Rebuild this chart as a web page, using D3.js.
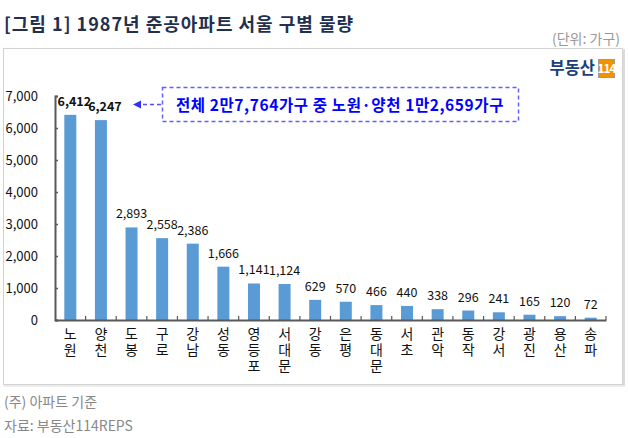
<!DOCTYPE html>
<html><head><meta charset="utf-8">
<script src="https://cdn.jsdelivr.net/npm/d3@7/dist/d3.min.js"></script>
<style>
html,body{margin:0;padding:0;background:#fff;}
svg{display:block;font-family:"Noto Sans CJK KR","Noto Sans",sans-serif;}
.vlab{writing-mode:vertical-rl;text-orientation:upright;}
</style></head>
<body>
<svg id="chart" width="628" height="438"></svg>
<script>
const categories = ["노원","양천","도봉","구로","강남","성동","영등포","서대문","강동","은평","동대문","서초","관악","동작","강서","광진","용산","송파"];
const values = [6412,6247,2893,2558,2386,1666,1141,1124,629,570,466,440,338,296,241,165,120,72];
const boldLabels = ["노원","양천"];
const yTicks = [0,1000,2000,3000,4000,5000,6000,7000];
const titleText = "[그림 1] 1987년 준공아파트 서울 구별 물량";
const unitText = "(단위: 가구)";
const noteText = "전체 2만7,764가구 중 노원·양천 1만2,659가구";
const footer1 = "(주) 아파트 기준";
const footer2 = "자료: 부동산114REPS";

const svg = d3.select("#chart");

// title
svg.append("text").attr("x",4).attr("y",31).attr("font-size",18).attr("font-weight","bold")
  .attr("fill","#22304e").attr("letter-spacing",1).text(titleText);
svg.append("text").attr("x",620).attr("y",44).attr("text-anchor","end").attr("font-size",14)
  .attr("fill","#999").text(unitText);

// box
svg.append("rect").attr("x",3.5).attr("y",48.5).attr("width",619).attr("height",336)
  .attr("fill","#fff").attr("stroke","#d2d2d2");
svg.append("line").attr("x1",624).attr("x2",624).attr("y1",49).attr("y2",386).attr("stroke","#dcdcdc").attr("stroke-width",2);
svg.append("line").attr("x1",4).attr("x2",625).attr("y1",386).attr("y2",386).attr("stroke","#e6e6e6").attr("stroke-width",1.5);

// logo
svg.append("text").attr("x",595).attr("y",74).attr("text-anchor","end").attr("font-size",16.5)
  .attr("font-weight","bold").attr("fill","#1c3f7c").text("부동산");
svg.append("rect").attr("x",598.5).attr("y",59.5).attr("width",16).attr("height",18)
  .attr("fill","#f39200").attr("stroke","#9a9a9a");
svg.append("text").attr("x",606.5).attr("y",73).attr("text-anchor","middle").attr("font-size",12)
  .attr("font-weight","bold").attr("fill","#fff").attr("letter-spacing",-1).text("114");

// scales
const x = d3.scaleBand().domain(categories).range([55,606]);
const y = d3.scaleLinear().domain([0,7000]).range([320,96]);
const barW = 12;

// bars
svg.append("g").selectAll("rect").data(categories).join("rect")
  .attr("x",(d)=>x(d)+x.bandwidth()/2-barW/2)
  .attr("y",(d,i)=>y(values[i]))
  .attr("width",barW)
  .attr("height",(d,i)=>y(0)-y(values[i]))
  .attr("fill","#5b9bd5");

// value labels
svg.append("g").selectAll("text").data(categories).join("text")
  .attr("x",(d)=>x(d)+x.bandwidth()/2 + (boldLabels.includes(d)?4:0))
  .attr("y",(d,i)=>y(values[i])-9)
  .attr("text-anchor","middle")
  .attr("font-size",12.5)
  .attr("font-weight",(d)=>boldLabels.includes(d)?"bold":"normal")
  .attr("fill","#111")
  .text((d,i)=>d3.format(",")(values[i]));

// y axis
const yAxis = svg.append("g").attr("transform","translate(55,0)")
  .call(d3.axisLeft(y).tickValues(yTicks).tickSize(-3).tickPadding(17).tickFormat(d3.format(",")));
yAxis.select(".domain").attr("stroke","#595959").attr("stroke-width",2);
yAxis.selectAll(".tick line").attr("stroke","#595959").attr("stroke-width",1.5);
yAxis.selectAll(".tick text").attr("font-size",13).attr("fill","#111")
  .attr("font-family","'Noto Sans CJK KR',sans-serif");

// x axis
const xAxis = svg.append("g").attr("transform","translate(0,320)")
  .call(d3.axisBottom(x).tickSize(0).tickFormat(""));
xAxis.select(".domain").attr("stroke","#595959").attr("stroke-width",2);
const bounds = categories.map(c=>x(c)).concat([x.range()[1]]);
svg.append("g").selectAll("line").data(bounds.slice(1)).join("line")
  .attr("x1",d=>d).attr("x2",d=>d).attr("y1",320).attr("y2",316)
  .attr("stroke","#595959").attr("stroke-width",1.2);

// x labels (vertical writing)
svg.append("g").selectAll("text").data(categories).join("text")
  .attr("class","vlab")
  .attr("x",d=>x(d)+x.bandwidth()/2)
  .attr("y",327)
  .attr("font-size",14).attr("letter-spacing",1.8).attr("fill","#111")
  .text(d=>d);

// annotation
svg.append("rect").attr("x",162.5).attr("y",87.5).attr("width",356).attr("height",34)
  .attr("fill","#fff").attr("stroke","#6060ff").attr("stroke-width",1.5).attr("stroke-dasharray","4,3");
svg.append("text").attr("x",340).attr("y",110.5).attr("text-anchor","middle").attr("font-size",15.5)
  .attr("font-weight","bold").attr("fill","#0000ff").attr("letter-spacing",0.6).text(noteText);
svg.append("line").attr("x1",161).attr("x2",140).attr("y1",104.5).attr("y2",104.5)
  .attr("stroke","#5050ff").attr("stroke-width",1.5).attr("stroke-dasharray","4,3");
svg.append("path").attr("d","M133,104.5 L141,100.5 L141,108.5 Z").attr("fill","#3030ff");

// footer
svg.append("text").attr("x",4).attr("y",407).attr("font-size",14).attr("fill","#888").text(footer1);
svg.append("text").attr("x",4).attr("y",431).attr("font-size",14).attr("fill","#888").text(footer2);
</script>
</body></html>
